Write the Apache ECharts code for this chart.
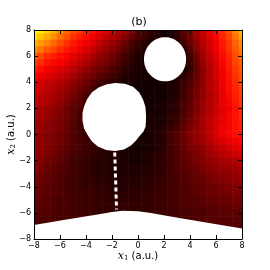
<!DOCTYPE html>
<html><head><meta charset="utf-8">
<script src="https://cdn.jsdelivr.net/npm/echarts@6/dist/echarts.min.js"></script>
<style>html,body{margin:0;padding:0;background:#fff}#c{width:270px;height:270px}</style>
</head><body><div id="c"></div>
<script>
const _ = null;
const tickValues = [-8, -6, -4, -2, 0, 2, 4, 6, 8];
const cellX = [-8,-7.5,-7,-6.5,-6,-5.5,-5,-4.5,-4,-3.5,-3,-2.5,-2,-1.5,-1,-0.5,0,0.5,1,1.5,2,2.5,3,3.5,4,4.5,5,5.5,6,6.5,7,7.5,8];
const cellY = [8,7.5,7,6.5,6,5.5,5,4.5,4,3.5,3,2.5,2,1.5,1,0.5,0,-0.5,-1,-1.5,-2,-2.5,-3,-3.5,-4,-4.5,-5,-5.5,-6,-6.5,-7,-7.5,-8];
// colormap fraction x100, one row per cellY (top to bottom), one column per cellX
const fieldRows = [
[76,72,68,63,58,53,48,45,41,38,34,31,28,25,21,17,12,9,5,3,1,3,6,12,17,23,28,33,37,43,49,57,65],
[70,66,62,58,53,49,44,41,38,35,31,28,25,22,18,14,9,7,4,3,1,1,5,10,16,22,27,32,36,42,47,54,61],
[63,60,56,52,48,44,40,37,34,31,27,24,21,18,14,10,6,4,2,2,_,_,3,8,14,20,25,30,35,40,45,51,57],
[57,54,50,47,43,40,37,34,31,28,24,21,18,15,11,8,5,3,2,_,_,_,_,5,11,18,24,29,34,39,44,50,55],
[50,47,43,41,38,36,33,30,27,24,21,18,15,12,8,6,3,2,_,_,_,_,_,4,8,15,22,27,32,37,42,48,53],
[45,43,39,37,35,33,30,27,24,21,18,16,13,10,7,5,3,2,_,_,_,_,_,4,7,14,21,26,31,36,41,47,51],
[40,38,35,33,31,29,26,23,20,18,15,13,10,8,5,4,2,2,_,_,_,_,_,3,6,13,19,25,30,35,40,45,49],
[36,34,32,30,28,26,23,20,17,15,12,10,8,6,4,3,2,2,1,1,_,_,2,5,8,14,20,25,30,35,39,44,48],
[31,30,28,27,25,23,20,17,14,12,9,7,5,4,2,2,1,1,1,1,1,2,3,7,10,15,20,25,29,34,38,43,47],
[30,29,27,25,23,21,18,15,12,9,6,_,_,_,_,2,1,1,1,1,1,3,4,8,11,16,20,25,29,34,38,42,46],
[28,27,25,23,21,19,16,13,9,6,_,_,_,_,_,_,1,1,1,1,1,3,4,8,11,16,20,24,28,33,37,41,45],
[27,26,24,22,20,17,14,12,8,_,_,_,_,_,_,_,_,1,1,2,2,4,5,9,12,17,21,25,28,33,36,40,44],
[25,24,22,20,18,15,12,10,8,_,_,_,_,_,_,_,_,1,1,2,2,4,5,9,13,17,21,25,28,32,35,39,43],
[24,23,21,19,17,15,12,9,8,_,_,_,_,_,_,_,_,1,2,2,3,5,6,10,14,18,22,26,29,33,36,39,43],
[23,22,20,18,16,14,11,8,7,_,_,_,_,_,_,_,_,1,2,2,3,5,7,11,15,19,23,27,30,33,36,39,42],
[22,21,19,18,16,14,11,8,6,_,_,_,_,_,_,_,_,1,2,3,4,7,9,13,17,20,23,27,31,34,36,39,41],
[21,20,18,17,15,13,10,8,6,_,_,_,_,_,_,_,1,1,2,4,5,8,11,15,18,21,23,27,31,34,36,38,39],
[21,20,18,17,15,13,10,9,7,6,4,_,_,_,_,2,1,2,2,4,5,8,11,14,17,20,22,25,29,31,33,35,36],
[21,20,18,16,14,12,10,9,7,6,5,4,3,3,2,2,1,2,2,4,5,8,10,13,16,18,20,23,26,28,30,32,33],
[21,19,17,15,13,11,9,8,7,6,5,4,3,3,2,2,2,3,3,5,6,8,10,13,15,17,19,22,24,26,27,29,30],
[20,18,15,14,12,10,8,7,6,5,4,4,3,3,2,2,2,3,3,5,6,8,10,12,14,16,18,20,21,23,24,25,26],
[19,17,14,13,11,10,8,7,6,5,4,4,3,3,3,3,3,4,4,5,6,8,10,12,13,15,17,19,20,21,22,23,24],
[17,15,13,12,10,9,8,7,6,5,4,4,3,3,3,3,3,4,4,5,6,8,9,11,12,14,15,17,18,19,20,21,22],
[16,15,13,12,10,9,8,7,6,6,5,5,4,4,4,4,4,5,5,6,7,8,9,11,12,13,14,16,17,18,19,20,20],
[15,14,12,11,10,9,8,7,6,6,5,5,4,4,4,4,4,5,5,6,7,8,9,10,11,12,13,14,15,16,17,18,18],
[14,13,12,11,10,9,8,8,7,7,6,6,5,5,5,5,5,6,6,7,7,8,9,10,11,12,13,14,14,15,16,17,17],
[13,12,11,10,9,9,8,8,7,7,6,6,5,5,5,5,5,6,6,7,7,8,9,10,10,11,12,13,13,14,14,15,15],
[12,12,11,10,9,9,8,8,7,7,6,6,6,6,6,6,6,6,6,7,7,8,9,10,10,11,11,12,12,13,13,14,14],
[11,11,10,10,9,9,8,8,7,7,6,6,6,6,6,6,6,6,6,7,7,8,8,9,9,10,10,11,11,12,12,12,12],
[10,10,10,9,9,9,8,8,7,_,_,_,_,_,_,_,_,_,_,_,_,8,8,9,9,10,10,11,11,11,11,12,12],
[10,10,10,_,_,_,_,_,_,_,_,_,_,_,_,_,_,_,_,_,_,_,_,_,_,_,_,11,11,11,11,11,11],
[_,_,_,_,_,_,_,_,_,_,_,_,_,_,_,_,_,_,_,_,_,_,_,_,_,_,_,_,_,_,_,_,_],
[_,_,_,_,_,_,_,_,_,_,_,_,_,_,_,_,_,_,_,_,_,_,_,_,_,_,_,_,_,_,_,_,_]
];
// obstacle outlines in data units
const bigHole = [[-1.77,3.95],[-1.0,3.88],[-0.38,3.65],[0.08,3.23],[0.38,2.69],[0.58,2.08],[0.62,1.38],[0.59,0.62],[0.42,0.23],[0.15,-0.08],[-0.15,-0.46],[-0.54,-0.85],[-1.08,-1.15],[-1.77,-1.27],[-2.46,-1.19],[-3.08,-0.92],[-3.54,-0.54],[-3.85,-0.08],[-4.15,0.46],[-4.27,1.08],[-4.27,1.62],[-4.15,2.15],[-3.92,2.69],[-3.54,3.23],[-3.0,3.62],[-2.38,3.85]];
const smallHole = {cx: 2.08, cy: 5.76, rx: 1.62, ry: 1.69};
const floorEdge = [[-8,-6.92],[-5.5,-6.5],[-3,-6.1],[-2,-5.93],[-1.2,-5.84],[0,-5.88],[1,-6.0],[2.5,-6.27],[5,-6.7],[8,-7.2]];
const gapLine = [[-1.79,-1.38],[-1.65,-5.74]];
const hotColors = ['#0b0000','#2c0000','#4e0000','#6f0000','#910000','#b20000','#d30000','#f50000','#ff1700','#ff3900','#ff5a00','#ff7c00','#ff9d00','#ffbf00','#ffe000','#ffff04','#ffff36','#ffff68','#ffff9b','#ffffcd','#ffffff'];

const cells = [];
fieldRows.forEach((row, r) => row.forEach((v, c) => { if (v !== null) cells.push([cellX[c], cellY[r], v]); }));

const minus = v => (v < 0 ? '\u2212' + (-v) : String(v));
const font = 'DejaVu Sans';
function axisBase(pos, showLabel) {
  return {
    type: 'value', min: -8, max: 8, interval: 2, position: pos, z: 10,
    axisLine: {show: true, onZero: false, lineStyle: {color: '#000', width: 1}},
    axisTick: {show: true, inside: true, length: 4, lineStyle: {color: '#000', width: 1}},
    axisLabel: {show: showLabel, fontSize: 8, color: '#000', fontFamily: font, margin: 3, formatter: minus},
    splitLine: {show: false}
  };
}
const nameStyle = {fontSize: 10, fontFamily: font, color: '#000',
  rich: {i: {fontFamily: 'DejaVu Serif', fontStyle: 'italic', fontSize: 11, color: '#000'},
         s: {fontFamily: 'DejaVu Serif', fontSize: 7, verticalAlign: 'bottom', color: '#000'}}};
const xb = axisBase('bottom', true);
Object.assign(xb, {name: '{i|x}{s|1} (a.u.)', nameLocation: 'middle', nameGap: 12, nameMoveOverlap: false, nameTextStyle: nameStyle});
const yl = axisBase('left', true);
Object.assign(yl, {name: '{i|x}{s|2} (a.u.)', nameLocation: 'middle', nameGap: 17, nameMoveOverlap: false, nameTextStyle: nameStyle});

const chart = echarts.init(document.getElementById('c'), null, {renderer: 'canvas'});
chart.setOption({
  animation: false,
  backgroundColor: '#fff',
  grid: {left: 34, top: 30, width: 208, height: 209, containLabel: false, outerBoundsMode: 'none'},
  xAxis: [xb, axisBase('top', false)],
  yAxis: [yl, axisBase('right', false)],
  visualMap: {show: false, type: 'continuous', min: 0, max: 100, dimension: 2, seriesIndex: 0, inRange: {color: hotColors}},
  graphic: [{type: 'text', x: 139, y: 22, style: {text: '(b)', fontSize: 11, fontFamily: font, fill: '#000', textAlign: 'center', textVerticalAlign: 'middle'}}],
  series: [
    {
      type: 'custom', xAxisIndex: 0, yAxisIndex: 0, clip: true, data: cells, encode: {x: 0, y: 1},
      renderItem: (params, api) => {
        const x = api.value(0), y = api.value(1);
        const p0 = api.coord([x - 0.25, y + 0.25]);
        const p1 = api.coord([x + 0.25, y - 0.25]);
        return {type: 'rect', shape: {x: p0[0], y: p0[1], width: p1[0] - p0[0] + 0.6, height: p1[1] - p0[1] + 0.6},
                style: {fill: api.visual('color')}};
      }
    },
    {
      type: 'custom', xAxisIndex: 0, yAxisIndex: 0, clip: true, data: [[0, 0]], z: 3, silent: true,
      renderItem: (params, api) => {
        const ell = [];
        for (let k = 0; k < 64; k++) {
          const a = 2 * Math.PI * k / 64;
          ell.push(api.coord([smallHole.cx + smallHole.rx * Math.cos(a), smallHole.cy + smallHole.ry * Math.sin(a)]));
        }
        const floor = floorEdge.map(p => api.coord(p)).concat([api.coord([8, -8]), api.coord([-8, -8])]);
        return {type: 'group', children: [
          {type: 'polygon', shape: {points: bigHole.map(p => api.coord(p))}, style: {fill: '#fff'}},
          {type: 'polygon', shape: {points: ell}, style: {fill: '#fff'}},
          {type: 'polygon', shape: {points: floor}, style: {fill: '#fff'}}
        ]};
      }
    },
    {
      type: 'line', xAxisIndex: 0, yAxisIndex: 0, data: gapLine, symbol: 'none', z: 4, silent: true,
      lineStyle: {color: '#fff', width: 3, type: [4, 3]}
    }
  ]
});
</script></body></html>
